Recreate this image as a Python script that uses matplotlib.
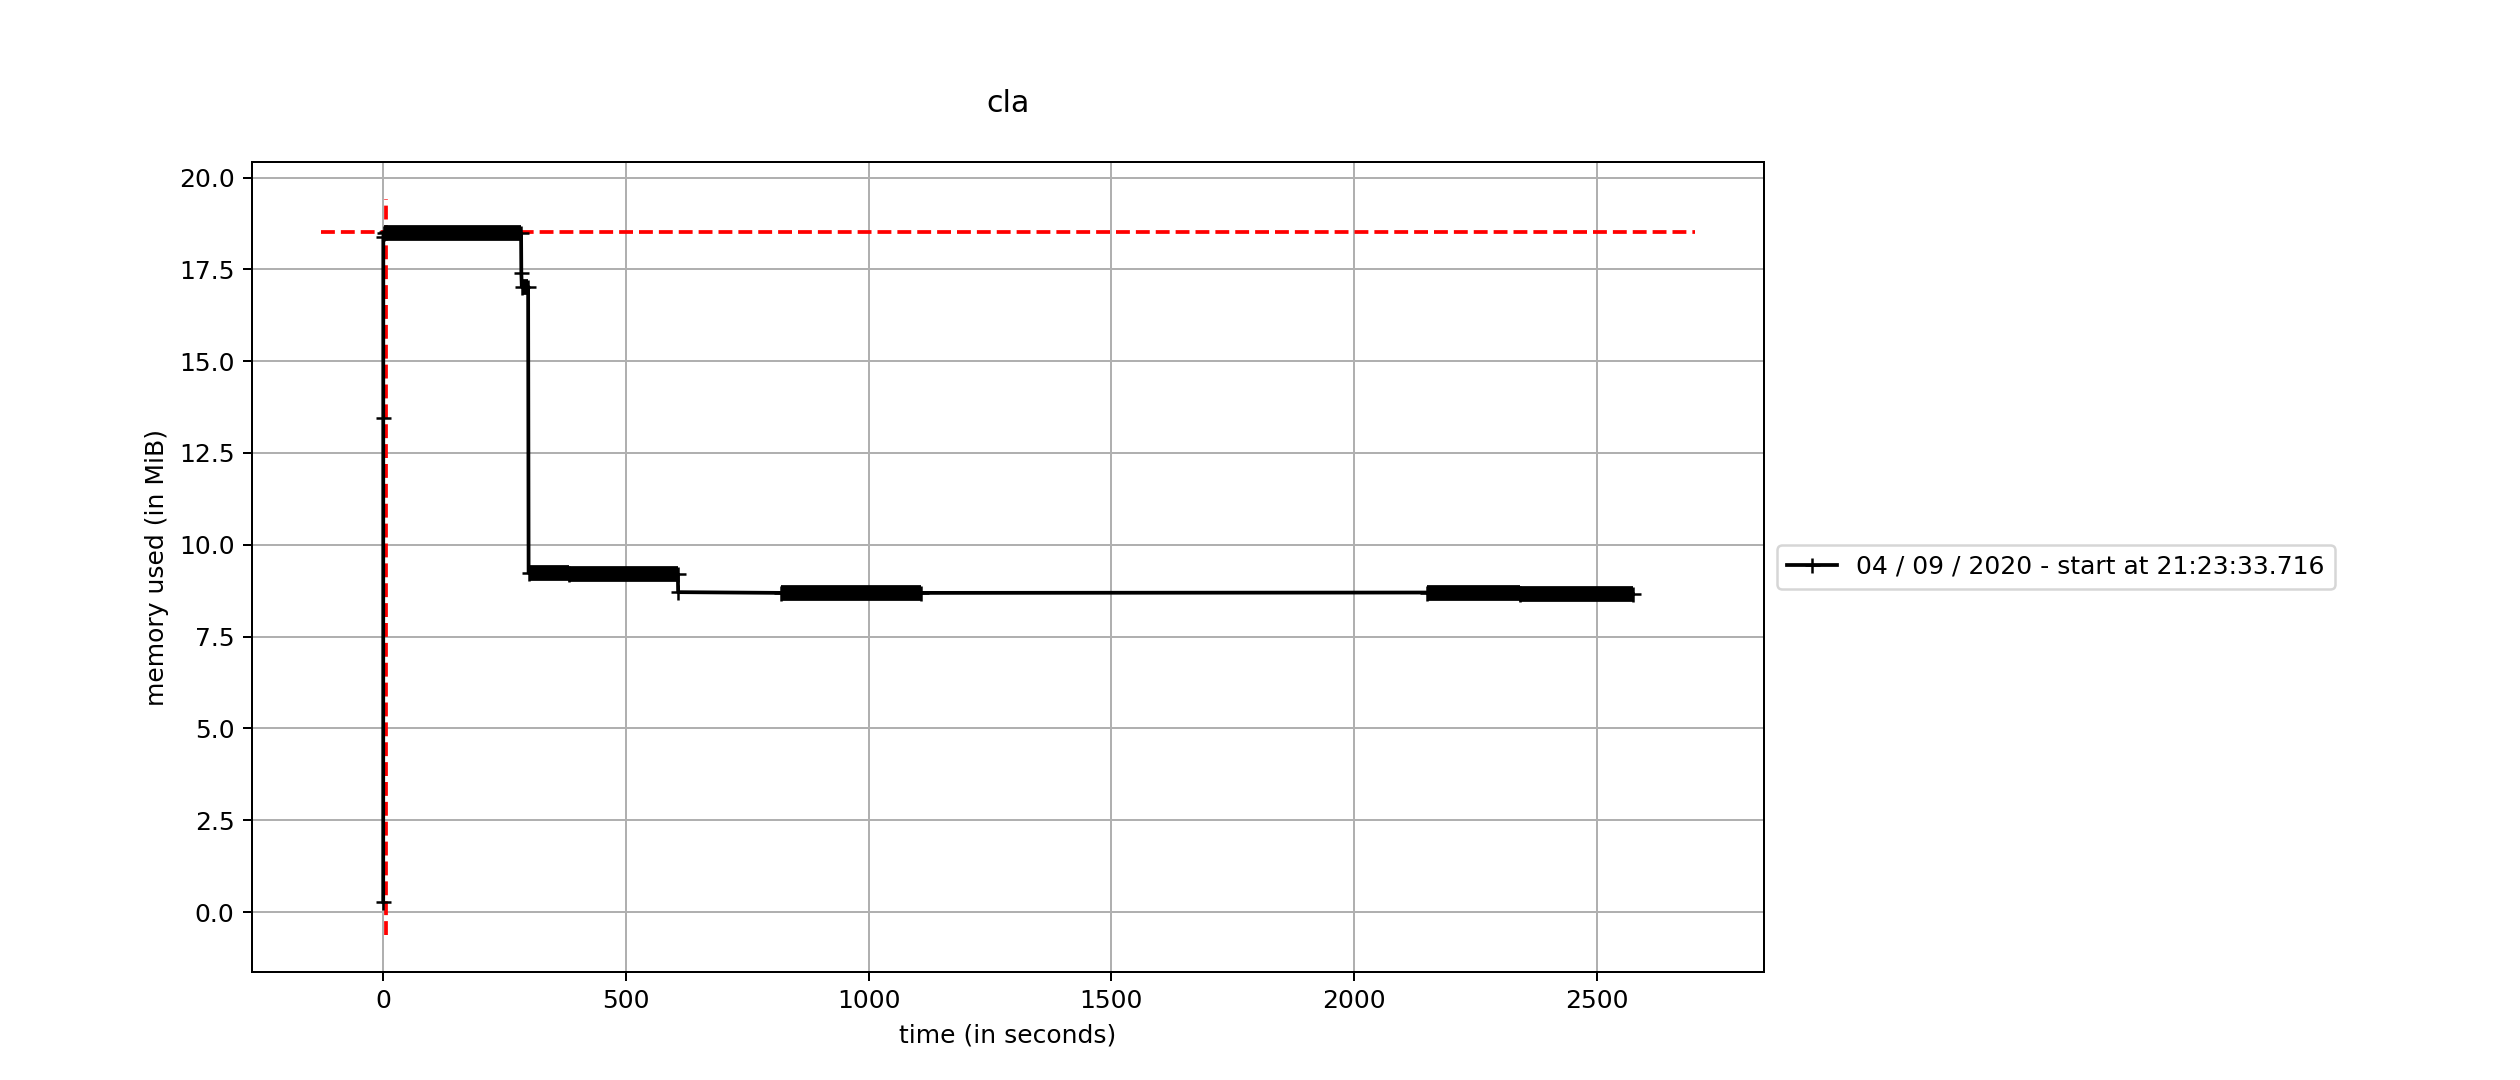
from matplotlib import pyplot as plt

# memory samples (seconds, MiB)
trace_t = [0.0, 0.1, 0.2, 1.0, 5.0, 284.0, 284.5, 285.5, 298.5, 299.5,
           381.9, 382.0, 607.0, 607.5, 820.0, 1108.0, 2150.0, 2341.9,
           2342.0, 2574.0]
trace_mem = [0.28, 13.46, 18.38, 18.48, 18.51, 18.48, 17.41, 17.03, 17.03,
             9.24, 9.24, 9.20, 9.20, 8.71, 8.69, 8.69, 8.70, 8.70,
             8.66, 8.66]

# stretches sampled every 0.1 s, where the "+" markers merge into a bar
band_start = [1.0, 285.5, 299.5, 382.0, 820.0, 2150.0, 2342.0]
band_end = [284.0, 298.5, 381.9, 607.0, 1108.0, 2341.9, 2574.0]
band_mem = [18.48, 17.03, 9.24, 9.20, 8.69, 8.70, 8.66]

title = 'cla'
label = '04 / 09 / 2020 - start at 21:23:33.716'


if __name__ == '__main__':
    fig = plt.figure(figsize=(14, 6), dpi=180)
    ax = fig.add_axes([0.1, 0.1, 0.6, 0.75])

    ax.plot(trace_t, trace_mem, '+-k', label=label, zorder=3)
    ax.hlines(band_mem, band_start, band_end, colors='k',
              linewidth=6.3, capstyle='butt', zorder=3)

    # max memory markers, spanning the limits before the final autoscale
    max_mem = max(trace_mem)
    t_max = trace_t[trace_mem.index(max_mem)]
    bottom, top = ax.get_ylim()
    left, right = ax.get_xlim()
    ax.hlines(max_mem, left + 0.001, right - 0.001, colors='r',
              linestyles='--', zorder=2)
    ax.vlines(t_max, bottom + 0.001, top - 0.001, colors='r',
              linestyles='--', zorder=2)

    ax.set_xlabel('time (in seconds)')
    ax.set_ylabel('memory used (in MiB)')
    ax.set_title(title, pad=20)
    ax.grid()
    ax.legend(loc='center left', bbox_to_anchor=(1, 0.5))

    fig.savefig('out.png', dpi=180)
